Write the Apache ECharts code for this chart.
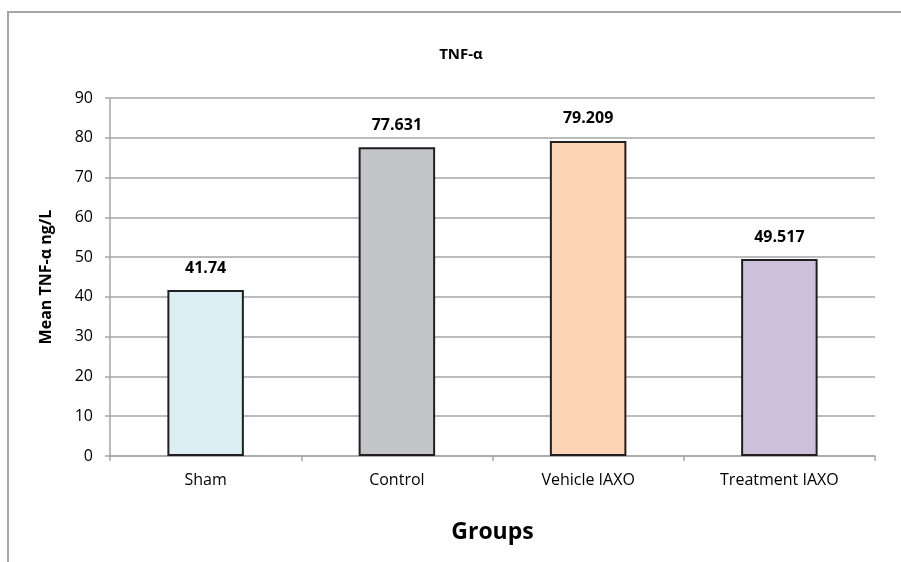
<!DOCTYPE html>
<html>
<head>
<meta charset="utf-8">
<script src="https://cdn.jsdelivr.net/npm/echarts@6/dist/echarts.min.js"></script>
<style>
  html, body { margin: 0; padding: 0; background: #fff; }
  #frame {
    position: absolute; left: 7px; top: 11px; width: 894px; height: 551px;
    border-top: 2px solid #a6a6a6; border-left: 2px solid #a6a6a6; box-sizing: border-box;
  }
  #chart { width: 901px; height: 562px; position: absolute; left: 0; top: 0; }
</style>
</head>
<body>
<div id="frame"></div>
<div id="chart"></div>
<script>
const groups = ['Sham', 'Control', 'Vehicle IAXO', 'Treatment IAXO'];
const meanTNF = [41.74, 77.631, 79.209, 49.517];
const barColors = ['#daeef3', '#c4c5c7', '#fbd5b5', '#ccc1da'];
const yTicks = [0, 10, 20, 30, 40, 50, 60, 70, 80, 90];

const chart = echarts.init(document.getElementById('chart'));
const fontFamily = '"Open Sans", "Noto Sans", sans-serif';

chart.setOption({
  animation: false,
  backgroundColor: 'transparent',
  title: {
    text: 'TNF-α',
    left: 456,
    top: 42,
    textAlign: 'center',
    textStyle: { fontSize: 15, fontWeight: 'bold', color: '#000', fontFamily }
  },
  grid: { left: 110, right: 26, top: 98, bottom: 106 },
  xAxis: {
    type: 'category',
    data: groups,
    name: 'Groups',
    nameLocation: 'middle',
    nameGap: 65,
    nameTextStyle: { fontSize: 23, fontWeight: 'bold', color: '#000', fontFamily },
    axisLine: { lineStyle: { color: '#a6a6a6', width: 1.5 } },
    axisTick: { show: true, length: 5, lineStyle: { color: '#a6a6a6', width: 1.5 } },
    axisLabel: { color: '#000', fontSize: 16, margin: 16, fontFamily }
  },
  yAxis: {
    type: 'value',
    min: yTicks[0],
    max: yTicks[yTicks.length - 1],
    interval: 10,
    name: 'Mean TNF-α ng/L',
    nameLocation: 'middle',
    nameGap: 56,
    nameTextStyle: { fontSize: 16, fontWeight: 'bold', color: '#000', fontFamily },
    axisLine: { show: true, lineStyle: { color: '#a6a6a6', width: 1.5 } },
    axisTick: { show: true, length: 5, lineStyle: { color: '#a6a6a6', width: 1.5 } },
    axisLabel: { color: '#000', fontSize: 16, margin: 17, fontFamily },
    splitLine: { lineStyle: { color: '#a6a6a6', width: 1.5 } }
  },
  series: [{
    type: 'bar',
    barWidth: '40%',
    data: meanTNF.map((v, i) => ({
      value: v,
      itemStyle: { color: barColors[i] }
    })),
    itemStyle: { borderColor: '#231f20', borderWidth: 2 },
    label: {
      show: true,
      position: 'top',
      distance: 14,
      color: '#000',
      fontSize: 16,
      fontWeight: 'bold',
      fontFamily
    }
  }]
});
</script>
</body>
</html>
